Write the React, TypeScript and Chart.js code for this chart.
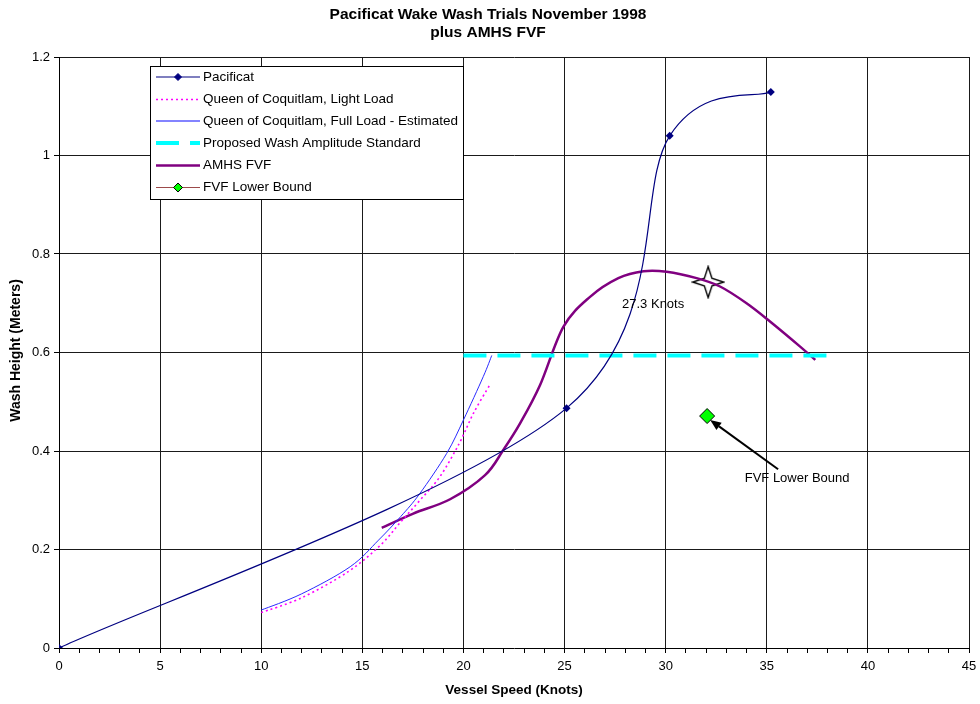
import React, { useEffect, useRef } from 'react';
import { Chart, registerables } from 'chart.js';

Chart.register(...registerables);

const FONT = '"Liberation Sans", Arial, Helvetica, sans-serif';

// ---- Data ----
const titleLines = ['Pacificat Wake Wash Trials November 1998', 'plus AMHS FVF'];
const xAxisTitle = 'Vessel Speed (Knots)';
const yAxisTitle = 'Wash Height (Meters)';

const xTicksMajor = [0, 5, 10, 15, 20, 25, 30, 35, 40, 45];
const yTicks = [0, 0.2, 0.4, 0.6, 0.8, 1, 1.2];

const pacificatX = [0, 25.1, 30.2, 35.2];
const pacificatY = [0, 0.487, 1.04, 1.129];

const queenLightX = [10, 12, 14.3, 15.9, 16.9, 17.85, 18.84, 19.8, 20.5, 21.3];
const queenLightY = [0.072, 0.102, 0.155, 0.209, 0.256, 0.3, 0.348, 0.416, 0.477, 0.534];

const queenFullX = [10, 12, 14.4, 15.8, 16.9, 17.85, 19.17, 20.0, 20.98, 21.4];
const queenFullY = [0.077, 0.11, 0.165, 0.219, 0.267, 0.314, 0.395, 0.463, 0.551, 0.594];

const standardX = [20, 38.1];
const standardY = [0.594, 0.594];

const amhsX = [15.96, 17.52, 19.34, 21.07, 21.97, 22.8, 23.79, 24.94, 26.26, 27.66, 28.9, 30.05, 31.53, 32.69, 34.0, 35.16, 36.65, 37.4];
const amhsY = [0.244, 0.273, 0.302, 0.351, 0.402, 0.456, 0.534, 0.652, 0.713, 0.751, 0.765, 0.764, 0.751, 0.734, 0.7, 0.663, 0.612, 0.585];

const lowerBoundX = [32.05];
const lowerBoundY = [0.471];

const starX = [32.1];
const starY = [0.743];

const seriesNames = [
  'Pacificat',
  'Queen of Coquitlam, Light Load',
  'Queen of Coquitlam, Full Load - Estimated',
  'Proposed Wash Amplitude Standard',
  'AMHS FVF',
  'FVF Lower Bound',
];

const knotsLabel = '27.3 Knots';
const knotsLabelPos = [29.38, 0.698];
const lowerBoundLabel = 'FVF Lower Bound';
const lowerBoundLabelPos = [36.5, 0.345];
const arrowTail = [35.56, 0.363];
const arrowTip = [32.2, 0.463];

// ---- Styles ----
const NAVY = '#000080';
const MAGENTA = '#ff00ff';
const BLUE = '#2a2aff';
const LEGEND_BLUE = '#5a5aff';
const CYAN = '#00ffff';
const PURPLE = '#800080';
const GREEN = '#00ff00';
const BROWN = '#9c4a4a';

function toPts(xs: number[], ys: number[]) {
  return xs.map((x, i) => ({ x, y: ys[i] }));
}

function makeStar(): HTMLCanvasElement {
  const c = document.createElement('canvas');
  c.width = 34;
  c.height = 34;
  const g = c.getContext('2d')!;
  const cx = 17, cy = 17, R = 15.5, r = 3.8;
  g.beginPath();
  g.moveTo(cx, cy - R);
  g.lineTo(cx + r, cy - r);
  g.lineTo(cx + R, cy);
  g.lineTo(cx + r, cy + r);
  g.lineTo(cx, cy + R);
  g.lineTo(cx - r, cy + r);
  g.lineTo(cx - R, cy);
  g.lineTo(cx - r, cy - r);
  g.closePath();
  g.fillStyle = '#ffffff';
  g.fill();
  g.lineWidth = 1.4;
  g.strokeStyle = '#000000';
  g.stroke();
  return c;
}

// Excel-like smoothing: Catmull-Rom control points (1/6 of neighbour chord)
const excelSmoothPlugin = {
  id: 'excelSmooth',
  beforeDatasetDraw(chart: any, args: any) {
    const ds = chart.data.datasets[args.index];
    if (!ds || !ds.excelSmooth) return;
    const meta = args.meta;
    const line = meta.dataset;
    if (line && line.updateControlPoints) line.updateControlPoints(chart.chartArea, 'x');
    const pts = meta.data;
    const n = pts.length;
    for (let i = 0; i < n; i++) {
      const p = pts[i];
      const prev = pts[Math.max(0, i - 1)];
      const next = pts[Math.min(n - 1, i + 1)];
      const dx = (next.x - prev.x) / 6;
      const dy = (next.y - prev.y) / 6;
      p.cp1x = p.x - dx;
      p.cp1y = p.y - dy;
      p.cp2x = p.x + dx;
      p.cp2y = p.y + dy;
    }
    if (line) line._path = undefined;
  },
};

function drawDiamond(ctx: CanvasRenderingContext2D, x: number, y: number, r: number, fill: string, stroke: string) {
  ctx.beginPath();
  ctx.moveTo(x, y - r);
  ctx.lineTo(x + r, y);
  ctx.lineTo(x, y + r);
  ctx.lineTo(x - r, y);
  ctx.closePath();
  ctx.fillStyle = fill;
  ctx.fill();
  ctx.lineWidth = 1;
  ctx.strokeStyle = stroke;
  ctx.stroke();
}

const decorPlugin = {
  id: 'decor',
  afterDraw(chart: any) {
    const ctx: CanvasRenderingContext2D = chart.ctx;
    const xs = chart.scales.x;
    const ys = chart.scales.y;
    const area = chart.chartArea;
    ctx.save();

    // Title
    ctx.fillStyle = '#000';
    ctx.textAlign = 'center';
    ctx.textBaseline = 'middle';
    ctx.font = `bold 15.5px ${FONT}`;
    ctx.fillText(titleLines[0], 488, 15);
    ctx.fillText(titleLines[1], 488, 33);

    // Axis titles
    ctx.font = `bold 13.5px ${FONT}`;
    ctx.fillText(xAxisTitle, (area.left + area.right) / 2, 690);
    ctx.save();
    ctx.translate(16, (area.top + area.bottom) / 2 - 2);
    ctx.rotate(-Math.PI / 2);
    ctx.font = `bold 14px ${FONT}`;
    ctx.fillText(yAxisTitle, 0, 0);
    ctx.restore();

    // Annotations
    ctx.font = `13px ${FONT}`;
    ctx.fillStyle = '#000';
    ctx.fillText(knotsLabel, xs.getPixelForValue(knotsLabelPos[0]), ys.getPixelForValue(knotsLabelPos[1]));
    ctx.fillText(lowerBoundLabel, xs.getPixelForValue(lowerBoundLabelPos[0]), ys.getPixelForValue(lowerBoundLabelPos[1]));

    // Arrow
    const tx = xs.getPixelForValue(arrowTail[0]);
    const ty = ys.getPixelForValue(arrowTail[1]);
    const hx = xs.getPixelForValue(arrowTip[0]);
    const hy = ys.getPixelForValue(arrowTip[1]);
    const ang = Math.atan2(hy - ty, hx - tx);
    const hl = 11, hw = 4.5;
    const bx = hx - hl * Math.cos(ang);
    const by = hy - hl * Math.sin(ang);
    ctx.beginPath();
    ctx.moveTo(tx, ty);
    ctx.lineTo(bx, by);
    ctx.strokeStyle = '#000';
    ctx.lineWidth = 2;
    ctx.stroke();
    ctx.beginPath();
    ctx.moveTo(hx, hy);
    ctx.lineTo(bx + hw * Math.sin(ang), by - hw * Math.cos(ang));
    ctx.lineTo(bx - hw * Math.sin(ang), by + hw * Math.cos(ang));
    ctx.closePath();
    ctx.fillStyle = '#000';
    ctx.fill();

    // Legend box
    const L = 150, T = 66, W = 313, H = 133;
    ctx.fillStyle = '#fff';
    ctx.fillRect(L, T, W, H);
    ctx.strokeStyle = '#000';
    ctx.lineWidth = 1;
    ctx.strokeRect(L + 0.5, T + 0.5, W, H);
    const rowY = [77, 99.5, 121, 143, 165.5, 187.5];
    const sx0 = 156, sx1 = 200, textX = 203;
    ctx.textAlign = 'left';
    ctx.textBaseline = 'middle';
    ctx.font = `13.5px ${FONT}`;
    for (let i = 0; i < seriesNames.length; i++) {
      const y = rowY[i];
      ctx.save();
      ctx.beginPath();
      ctx.moveTo(sx0, y);
      ctx.lineTo(sx1, y);
      if (i === 0) { ctx.strokeStyle = NAVY; ctx.lineWidth = 1.2; }
      if (i === 1) { ctx.strokeStyle = MAGENTA; ctx.lineWidth = 1.6; ctx.setLineDash([2, 3]); }
      if (i === 2) { ctx.strokeStyle = LEGEND_BLUE; ctx.lineWidth = 1.3; }
      if (i === 3) { ctx.strokeStyle = CYAN; ctx.lineWidth = 4; ctx.setLineDash([23, 11]); }
      if (i === 4) { ctx.strokeStyle = PURPLE; ctx.lineWidth = 2.5; }
      if (i === 5) { ctx.strokeStyle = BROWN; ctx.lineWidth = 1.2; }
      ctx.stroke();
      ctx.restore();
      if (i === 0) drawDiamond(ctx, (sx0 + sx1) / 2, y, 3.5, NAVY, NAVY);
      if (i === 5) drawDiamond(ctx, (sx0 + sx1) / 2, y, 4.5, GREEN, '#000');
      ctx.fillStyle = '#000';
      ctx.fillText(seriesNames[i], textX, y);
    }
    ctx.restore();
  },
};

export default function App() {
  const ref = useRef<HTMLCanvasElement | null>(null);

  useEffect(() => {
    if (!ref.current) return;
    const star = makeStar();
    const chart = new Chart(ref.current, {
      type: 'scatter',
      data: {
        datasets: [
          {
            label: seriesNames[0],
            data: toPts(pacificatX, pacificatY),
            showLine: true,
            borderColor: NAVY,
            backgroundColor: NAVY,
            borderWidth: 1.2,
            tension: 0.4,
            excelSmooth: true,
            pointStyle: 'rectRot',
            pointRadius: 4,
            pointBorderWidth: 0,
          } as any,
          {
            label: seriesNames[1],
            data: toPts(queenLightX, queenLightY),
            showLine: true,
            borderColor: MAGENTA,
            borderWidth: 1.6,
            borderDash: [2, 3],
            tension: 0.4,
            excelSmooth: true,
            pointRadius: 0,
          } as any,
          {
            label: seriesNames[2],
            data: toPts(queenFullX, queenFullY),
            showLine: true,
            borderColor: BLUE,
            borderWidth: 1,
            tension: 0.4,
            excelSmooth: true,
            pointRadius: 0,
          } as any,
          {
            label: seriesNames[3],
            data: toPts(standardX, standardY),
            showLine: true,
            borderColor: CYAN,
            borderWidth: 4,
            borderDash: [23, 11],
            borderCapStyle: 'butt',
            pointRadius: 0,
          } as any,
          {
            label: seriesNames[4],
            data: toPts(amhsX, amhsY),
            showLine: true,
            borderColor: PURPLE,
            borderWidth: 2.5,
            tension: 0.4,
            excelSmooth: true,
            pointRadius: 0,
          } as any,
          {
            label: seriesNames[5],
            data: toPts(lowerBoundX, lowerBoundY),
            showLine: false,
            pointStyle: 'rectRot',
            pointRadius: 7.5,
            backgroundColor: GREEN,
            borderColor: '#000',
            pointBorderWidth: 1,
          } as any,
          {
            label: 'star',
            data: toPts(starX, starY),
            showLine: false,
            pointStyle: star,
            pointRadius: 16,
          } as any,
        ],
      },
      options: {
        animation: false,
        responsive: false,
        maintainAspectRatio: false,
        events: [],
        layout: { autoPadding: false, padding: { left: 0, top: 57, right: 11, bottom: 0 } },
        plugins: {
          legend: { display: false },
          tooltip: { enabled: false },
          title: { display: false },
        },
        scales: {
          x: {
            type: 'linear',
            min: 0,
            max: 45,
            afterFit: (s: any) => { s.height = 56; s.paddingLeft = 0; s.paddingRight = 0; },
            afterBuildTicks: (s: any) => {
              const t = [];
              for (let v = 0; v <= 45; v++) t.push({ value: v });
              s.ticks = t;
            },
            ticks: {
              autoSkip: false,
              maxRotation: 0,
              padding: 6,
              color: '#000',
              font: { family: FONT, size: 13 },
              callback: (v: any) => (xTicksMajor.includes(Number(v)) ? String(v) : ''),
            },
            grid: {
              color: (c: any) => (c.tick && xTicksMajor.includes(c.tick.value) && c.tick.value !== 0 ? '#1a1a1a' : 'rgba(0,0,0,0)'),
              tickColor: '#000',
              tickLength: 5,
              lineWidth: 1,
            },
            border: { color: '#000', width: 1 },
          },
          y: {
            type: 'linear',
            min: 0,
            max: 1.2,
            afterFit: (s: any) => { s.width = 59; s.paddingTop = 0; s.paddingBottom = 0; },
            afterBuildTicks: (s: any) => {
              s.ticks = yTicks.map((v) => ({ value: v }));
            },
            ticks: {
              padding: 4,
              color: '#000',
              font: { family: FONT, size: 13 },
              callback: (v: any) => String(Number(Number(v).toFixed(1))),
            },
            grid: {
              color: (c: any) => (c.tick && c.tick.value !== 0 ? '#1a1a1a' : 'rgba(0,0,0,0)'),
              tickColor: '#000',
              tickLength: 5,
              lineWidth: 1,
            },
            border: { color: '#000', width: 1 },
          },
        },
      },
      plugins: [excelSmoothPlugin, decorPlugin],
    } as any);
    return () => chart.destroy();
  }, []);

  return (
    <div style={{ position: 'absolute', left: 0, top: 0, width: 980, height: 704, background: '#fff' }}>
      <canvas ref={ref} width={980} height={704} style={{ display: 'block', width: 980, height: 704 }} />
    </div>
  );
}
